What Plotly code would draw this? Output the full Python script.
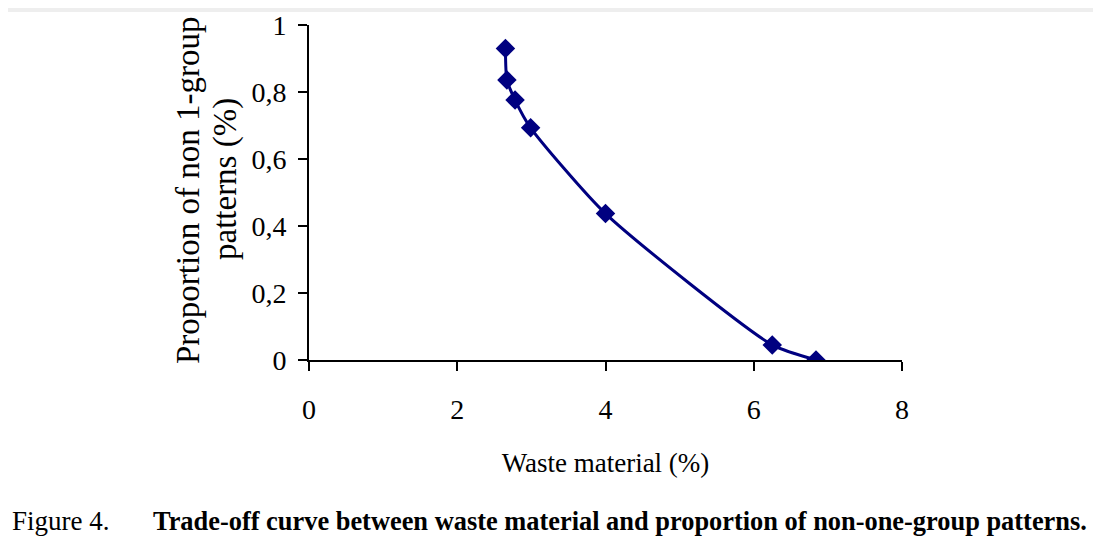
import plotly.graph_objects as go

waste = [2.65, 2.67, 2.78, 2.99, 4.0, 6.25, 6.84]
proportion = [0.93, 0.836, 0.776, 0.693, 0.437, 0.045, 0.0]

x_ticks = [0, 2, 4, 6, 8]
y_ticks = [0, 0.2, 0.4, 0.6, 0.8, 1]
y_tick_labels = ["0", "0,2", "0,4", "0,6", "0,8", "1"]

W, H = 1093, 541
L, R, T, B = 301, 199, 17, 189
PW, PH = W - L - R, H - T - B
OFF = 8  # page body offset


def px(xw):
    return (xw - OFF - L) / PW


def py(yw):
    return (H - B - (yw - OFF)) / PH


fig = go.Figure()
fig.add_trace(go.Scatter(
    x=waste, y=proportion, mode="lines+markers",
    line=dict(color="#000080", width=3, shape="spline", smoothing=0.6),
    marker=dict(symbol="diamond", size=15, color="#000080"),
    showlegend=False,
))

font = "Liberation Serif, Times New Roman, serif"
fig.update_layout(
    width=W, height=H,
    margin=dict(l=L, r=R, t=T, b=B, pad=0, autoexpand=False),
    paper_bgcolor="white", plot_bgcolor="white",
    font=dict(family=font, color="black"),
    xaxis=dict(range=[0, 8], tickvals=x_ticks, showgrid=False, zeroline=False,
               automargin=False,
               showline=True, linecolor="black", linewidth=2,
               ticks="outside", ticklen=9, tickwidth=2, tickcolor="black",
               ticklabelstandoff=14,
               tickfont=dict(size=28, family=font),
               title=dict(text="Waste material (%)", font=dict(size=27, family=font), standoff=30)),
    yaxis=dict(range=[0, 1], tickvals=y_ticks, ticktext=y_tick_labels, showgrid=False, zeroline=False,
               automargin=False,
               showline=True, linecolor="black", linewidth=2,
               ticks="outside", ticklen=9, tickwidth=2, tickcolor="black",
               ticklabelstandoff=6,
               tickfont=dict(size=28, family=font)),
)

fig.add_shape(type="rect", xref="paper", yref="paper",
              x0=-L / PW, x1=1 + R / PW,
              y0=1 + (T - 4) / PH, y1=1 + T / PH,
              fillcolor="#eeeeee", line=dict(width=0), layer="below")

# y-axis title (two lines)
fig.add_annotation(text="Proportion of non 1-group", textangle=-90,
                   xref="paper", yref="paper", x=px(188), y=py(191),
                   xanchor="center", yanchor="middle", showarrow=False,
                   font=dict(size=33, family=font, color="black"))
fig.add_annotation(text="patterns (%)", textangle=-90,
                   xref="paper", yref="paper", x=px(225), y=py(179),
                   xanchor="center", yanchor="middle", showarrow=False,
                   font=dict(size=33, family=font, color="black"))

# caption
fig.add_annotation(text="Figure 4.", xref="paper", yref="paper",
                   x=px(10), y=py(521), xanchor="left", yanchor="middle", showarrow=False,
                   font=dict(size=27, family=font, color="black"))
fig.add_annotation(text="<b>Trade-off curve between waste material and proportion of non-one-group patterns.</b>",
                   xref="paper", yref="paper",
                   x=px(151), y=py(521), xanchor="left", yanchor="middle", showarrow=False,
                   font=dict(size=26.4, family=font, color="black"))

fig.write_html("out.html")
